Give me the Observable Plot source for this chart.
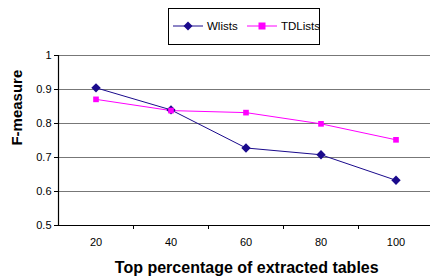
<!DOCTYPE html>
<html>
<head>
<meta charset="utf-8">
<script src="https://cdn.jsdelivr.net/npm/d3@7"></script>
<script src="https://cdn.jsdelivr.net/npm/@observablehq/plot@0.6"></script>
<style>
  html, body { margin: 0; padding: 0; background: #fff; }
  #wrap { position: relative; width: 430px; height: 278px; font-family: "Liberation Sans", Arial, sans-serif; }
  #legend { position: absolute; left: 168px; top: 8px; width: 152px; height: 37px; border: 1px solid #000; box-sizing: border-box; background: #fff; }
  #legend svg { display: block; }
</style>
</head>
<body>
<div id="wrap"></div>
<script>
const categories = [20, 40, 60, 80, 100];
const wlists = [0.905, 0.840, 0.728, 0.708, 0.633];
const tdlists = [0.871, 0.838, 0.832, 0.799, 0.752];
const seriesNames = ["Wlists", "TDLists"];
const seriesColors = ["#1a0a8c", "#ff00ff"];
const yTicks = [0.5, 0.6, 0.7, 0.8, 0.9, 1];
const xBoundaries = [30, 50, 70, 90];

const data = [];
categories.forEach((c, i) => {
  data.push({x: c, y: wlists[i], s: "Wlists"});
  data.push({x: c, y: tdlists[i], s: "TDLists"});
});

const chart = Plot.plot({
  width: 430,
  height: 278,
  marginLeft: 58,
  marginRight: 0,
  marginTop: 55,
  marginBottom: 53,
  style: {fontFamily: "Liberation Sans, Arial, sans-serif", fontSize: "11px", color: "#000", background: "#fff"},
  x: {type: "linear", domain: [10, 110], range: [58, 433]},
  y: {domain: [0.5, 1], range: [225, 55]},
  color: {domain: seriesNames, range: seriesColors},
  marks: [
    Plot.ruleY(yTicks.filter(d => d > 0.5), {stroke: "#777", strokeWidth: 1, x1: 10, x2: 110}),
    Plot.ruleY([0.5], {stroke: "#000", strokeWidth: 1.2}),
    Plot.ruleX([10], {stroke: "#000", strokeWidth: 1.2}),
    Plot.axisY({ticks: yTicks, tickSize: 4, tickPadding: 3, tickFormat: d => d === 1 ? "1" : d3.format(".1f")(d), label: null, fontSize: 11}),
    Plot.text(["F-measure"], {frameAnchor: "left", dx: -41, y: 0.735, rotate: -90, fontWeight: "bold", fontSize: 15, text: d => d}),
    Plot.axisX({ticks: categories, tickSize: 0, tickPadding: 13, label: null, fontSize: 11}),
    Plot.axisX({ticks: xBoundaries, tickSize: 4, tickFormat: () => "", label: null}),
    Plot.text(["Top percentage of extracted tables"], {x: 60.2, frameAnchor: "bottom", lineAnchor: "bottom", dy: 47, fontWeight: "bold", fontSize: 16, text: d => d}),
    Plot.line(data, {x: "x", y: "y", z: "s", stroke: "s", strokeWidth: 1}),
    Plot.dot(data.filter(d => d.s === "Wlists"), {x: "x", y: "y", fill: "s", symbol: "diamond2", r: 4.2, stroke: "none"}),
    Plot.dot(data.filter(d => d.s === "TDLists"), {x: "x", y: "y", fill: "s", symbol: "square2", r: 3.6, stroke: "none"})
  ]
});

const wrap = document.getElementById("wrap");
wrap.appendChild(chart);

// legend
const leg = document.createElement("div");
leg.id = "legend";
const ns = "http://www.w3.org/2000/svg";
const lsvg = document.createElementNS(ns, "svg");
lsvg.setAttribute("width", 150);
lsvg.setAttribute("height", 35);
const items = [{x: 4, sym: "diamond"}, {x: 78, sym: "square"}];
seriesNames.forEach((name, i) => {
  const g = document.createElementNS(ns, "g");
  const x0 = items[i].x;
  const line = document.createElementNS(ns, "line");
  line.setAttribute("x1", x0); line.setAttribute("x2", x0 + 30);
  line.setAttribute("y1", 17); line.setAttribute("y2", 17);
  line.setAttribute("stroke", seriesColors[i]);
  g.appendChild(line);
  const cx = x0 + 15;
  let m;
  if (items[i].sym === "diamond") {
    m = document.createElementNS(ns, "path");
    m.setAttribute("d", `M${cx},${17-4.5}L${cx+4.5},17L${cx},${17+4.5}L${cx-4.5},17Z`);
  } else {
    m = document.createElementNS(ns, "rect");
    m.setAttribute("x", cx - 3.5); m.setAttribute("y", 17 - 3.5);
    m.setAttribute("width", 7); m.setAttribute("height", 7);
  }
  m.setAttribute("fill", seriesColors[i]);
  g.appendChild(m);
  const t = document.createElementNS(ns, "text");
  t.setAttribute("x", x0 + 34); t.setAttribute("y", 21);
  t.setAttribute("font-size", "11.5");
  t.setAttribute("font-family", "Liberation Sans, Arial, sans-serif");
  t.textContent = name;
  g.appendChild(t);
  lsvg.appendChild(g);
});
leg.appendChild(lsvg);
wrap.appendChild(leg);
</script>
</body>
</html>
